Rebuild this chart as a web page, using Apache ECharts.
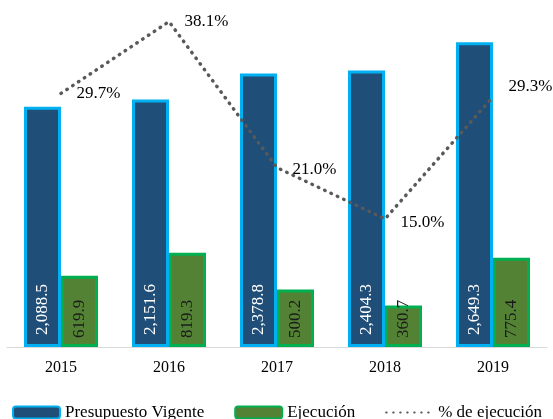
<!DOCTYPE html>
<html>
<head>
<meta charset="utf-8">
<script src="https://cdn.jsdelivr.net/npm/echarts@6/dist/echarts.min.js"></script>
<style>
  html, body { margin: 0; padding: 0; background: #fff; }
  #main { width: 553px; height: 419px; }
</style>
</head>
<body>
<div id="main"></div>
<script>
var years = ['2015', '2016', '2017', '2018', '2019'];
var presupuesto = [2088.5, 2151.6, 2378.8, 2404.3, 2649.3];
var ejecucion = [619.9, 819.3, 500.2, 360.7, 775.4];
var porcentaje = [29.7, 38.1, 21.0, 15.0, 29.3];

var chart = echarts.init(document.getElementById('main'));
var serif = '"Liberation Serif", "Times New Roman", serif';

function fmt(v) {
  return v.toLocaleString('en-US', { minimumFractionDigits: 1, maximumFractionDigits: 1 });
}

// label offsets for the % line, tweaked by eye
var pctOffsets = [[0, 0], [0, 0], [0, 2], [0, 4], [0, -10]];

var option = {
  animation: false,
  grid: { left: 7, right: 6, top: 2, bottom: 72 },
  legend: {
    left: 7,
    top: 399,
    itemWidth: 47,
    itemHeight: 12,
    itemGap: 30,
    textStyle: { fontFamily: serif, fontSize: 17, color: '#000' },
    data: ['Presupuesto Vigente', 'Ejecución', '% de ejecución']
  },
  xAxis: {
    type: 'category',
    data: years,
    axisTick: { show: false },
    axisLine: { lineStyle: { color: '#d9d9d9', width: 1 } },
    axisLabel: { fontFamily: serif, fontSize: 16, color: '#000', margin: 13 }
  },
  yAxis: [
    { type: 'value', min: 0, max: 3000, show: false },
    { type: 'value', min: 0, max: 40.4, show: false }
  ],
  series: [
    {
      name: 'Presupuesto Vigente',
      type: 'bar',
      barWidth: 37,
      barGap: '0%',
      data: presupuesto,
      itemStyle: { color: '#1f4e79', borderColor: '#00b0f0', borderWidth: 3 },
      label: {
        show: true,
        position: 'insideBottom',
        rotate: 90,
        align: 'left',
        verticalAlign: 'middle',
        distance: 12,
        fontFamily: serif,
        fontSize: 17,
        color: '#fff',
        formatter: function (p) { return fmt(p.value); }
      }
    },
    {
      name: 'Ejecución',
      type: 'bar',
      barWidth: 37,
      data: ejecucion,
      itemStyle: { color: '#548235', borderColor: '#00b050', borderWidth: 3 },
      label: {
        show: true,
        position: 'insideBottom',
        rotate: 90,
        align: 'left',
        verticalAlign: 'middle',
        distance: 9,
        fontFamily: serif,
        fontSize: 17,
        color: '#1a1a1a',
        formatter: function (p) { return fmt(p.value); }
      }
    },
    {
      name: '% de ejecución',
      type: 'line',
      yAxisIndex: 1,
      symbol: 'circle',
      symbolSize: 1,
      showSymbol: true,
      z: 5,
      lineStyle: { color: '#595959', width: 3.5, type: [0.5, 6.5], cap: 'round' },
      itemStyle: { color: 'rgba(0,0,0,0)' },
      data: porcentaje.map(function (v, i) {
        return { value: v, label: { offset: pctOffsets[i] } };
      }),
      label: {
        show: true,
        position: 'right',
        distance: 15,
        fontFamily: serif,
        fontSize: 17,
        color: '#000',
        formatter: function (p) { return p.value.toFixed(1) + '%'; }
      }
    }
  ]
};

chart.setOption(option);
</script>
</body>
</html>
